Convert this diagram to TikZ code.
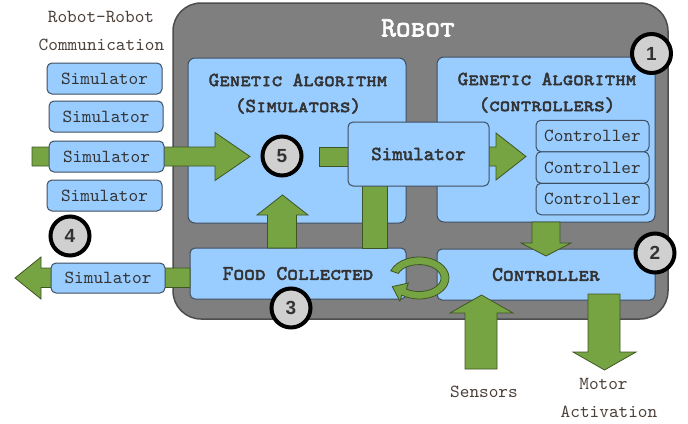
\documentclass[tikz,border=0pt]{standalone}
\usepackage{fontspec}
\newfontfamily\tyfont{lmmono10-regular.otf}
\newfontfamily\tybfont{lmmono10-regular.otf}[FakeBold=2.5]
\newfontfamily\capfont{lmmonocaps10-regular.otf}[FakeBold=2.5]
\newfontfamily\numfont{Liberation Sans}
\definecolor{robotgray}{HTML}{7F7F7F}
\definecolor{robotedge}{HTML}{4D4D4D}
\definecolor{boxblue}{HTML}{99CCFF}
\definecolor{boxedge}{HTML}{3F4F5F}
\definecolor{arrowgreen}{HTML}{77A442}
\definecolor{arrowedge}{HTML}{3E5524}
\definecolor{txtdark}{HTML}{333333}
\definecolor{txtout}{HTML}{4B4038}
\definecolor{badgefill}{HTML}{D0D0D0}
\tikzset{
  robotbox/.style={draw=robotedge, fill=robotgray, line width=1.5pt, rounded corners=28pt, inner sep=0pt},
  panel/.style={draw=boxedge, fill=boxblue, line width=1pt, rounded corners=7pt, inner sep=0pt, text=txtdark},
  smallbox/.style={panel, rounded corners=5pt, font=\tyfont\fontsize{18.4}{20}\selectfont},
  headtext/.style={inner sep=0pt, text=txtdark, font=\capfont\fontsize{20}{22}\selectfont},
  outtext/.style={inner sep=0pt, text=txtout, font=\tyfont\fontsize{18.4}{20}\selectfont},
  blockarrow/.style={fill=arrowgreen, draw=arrowedge, line width=0.8pt, line join=miter},
  badge/.style={circle, draw=black, line width=4pt, fill=badgefill, minimum size=39pt, inner sep=0pt, text=txtdark, font=\numfont\bfseries\fontsize{19}{19}\selectfont}
}
\begin{document}
\begin{tikzpicture}[x=1pt,y=-1pt]
\useasboundingbox (0,0) rectangle (688,423);
% robot frame
\node[robotbox, minimum width=495pt, minimum height=316pt] (robot) at (420.5,161) {};
\node[inner sep=0pt, text=white, font=\capfont\fontsize{28}{30}\selectfont] (robottitle) at (418,28) {Robot};
% main panels
\node[panel, minimum width=218pt, minimum height=165pt] (gasim) at (297,140.5) {};
\node[panel, minimum width=218pt, minimum height=165pt] (gactrl) at (546,139.5) {};
\node[panel, rounded corners=5pt, minimum width=216pt, minimum height=51pt, font=\capfont\fontsize{20.5}{22}\selectfont] (food) at (298,273.5) {Food Collected};
\node[panel, rounded corners=5pt, minimum width=218pt, minimum height=51pt, font=\capfont\fontsize{20.5}{22}\selectfont] (ctrl) at (546,274.5) {Controller};
\node[headtext] (gasimA) at (298,80) {Genetic Algorithm};
\node[headtext] (gasimB) at (298,106) {(Simulators)};
\node[headtext] (gactrlA) at (547,79) {Genetic Algorithm};
\node[headtext] (gactrlB) at (547,105) {(controllers)};
% block arrows
\draw[blockarrow] (32,147) -- (215,147) -- (215,132.5) -- (250,156.5) -- (215,180.5) -- (215,166) -- (32,166) -- cycle;
\draw[blockarrow] (319,147) rectangle (352,166);
\draw[blockarrow] (485,147) -- (496,147) -- (496,133) -- (526,156.5) -- (496,180) -- (496,166) -- (485,166) -- cycle;
\draw[blockarrow] (267.5,248) -- (267.5,215) -- (257,215) -- (282.5,195) -- (308,215) -- (296.5,215) -- (296.5,248) -- cycle;
\draw[blockarrow] (362,183) rectangle (387,248);
\draw[blockarrow] (532,222) -- (532,243) -- (521,243) -- (546,256) -- (571,243) -- (560,243) -- (560,222) -- cycle;
\draw[blockarrow] (465,369) -- (465,313) -- (450,313) -- (481.5,295) -- (513,313) -- (497,313) -- (497,369) -- cycle;
\draw[blockarrow] (588,294) -- (588,352) -- (573,352) -- (604.5,370) -- (636,352) -- (620,352) -- (620,294) -- cycle;
\draw[blockarrow] (190,268) -- (41,268) -- (41,257) -- (15,278) -- (41,299) -- (41,287.5) -- (190,287.5) -- cycle;
% loop arrow
\draw[blockarrow] (390.8,270.8) arc[start angle=200,end angle=485,x radius=30,y radius=21] -- (399.9,301.2) -- (392.3,286.6) -- (408.3,283.0) -- (406.4,289.1) arc[start angle=485,end angle=200,x radius=22,y radius=13.5] -- cycle;
% simulator in the middle
\node[panel, rounded corners=5pt, minimum width=141pt, minimum height=64pt, font=\tybfont\fontsize{20}{22}\selectfont] (simmid) at (418.5,154) {Simulator};
% controllers
\node[smallbox, minimum width=113pt, minimum height=31.5pt] (ctrlA) at (592.5,136) {Controller};
\node[smallbox, minimum width=113pt, minimum height=31.5pt] (ctrlB) at (592.5,167.5) {Controller};
\node[smallbox, minimum width=113pt, minimum height=31.5pt] (ctrlC) at (592.5,199) {Controller};
% left simulators
\node[smallbox, minimum width=115pt, minimum height=31pt] (simA) at (104.5,78.5) {Simulator};
\node[smallbox, minimum width=114pt, minimum height=31pt] (simB) at (106,116.5) {Simulator};
\node[smallbox, minimum width=115pt, minimum height=31pt] (simC) at (106.5,156.5) {Simulator};
\node[smallbox, minimum width=115pt, minimum height=31pt] (simD) at (104.5,195.5) {Simulator};
\node[smallbox, minimum width=114pt, minimum height=30pt] (simE) at (108,278) {Simulator};
% outside texts
\node[outtext] (commA) at (101,17) {Robot-Robot};
\node[outtext] (commB) at (101.5,45) {Communication};
\node[outtext] (sensors) at (484,392) {Sensors};
\node[outtext] (motorA) at (603.5,384) {Motor};
\node[outtext] (motorB) at (609,412) {Activation};
% badges
\node[badge] (b1) at (651.5,53.5) {1};
\node[badge] (b2) at (655,253) {2};
\node[badge] (b3) at (291,308) {3};
\node[badge] (b4) at (70,236) {4};
\node[badge] (b5) at (282,156) {5};
\end{tikzpicture}
\end{document}
